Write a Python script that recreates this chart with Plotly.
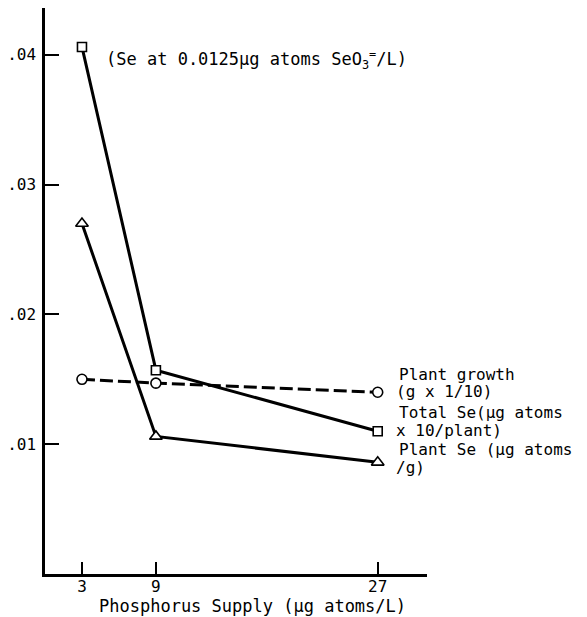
import plotly.graph_objects as go

# ---- data ----
phosphorus = [3, 9, 27]
plant_growth = [0.0150, 0.0147, 0.0140]     # g x 1/10  (circles, dashed)
total_se = [0.0406, 0.0157, 0.0110]         # ug atoms x 10/plant (squares)
plant_se = [0.0270, 0.0106, 0.0086]         # ug atoms/g (triangles)

x_ticks = [3, 9, 27]
x_tick_labels = ["3", "9", "27"]
y_ticks = [0.01, 0.02, 0.03, 0.04]
y_tick_labels = [".01", ".02", ".03", ".04"]

x_title = "Phosphorus Supply (µg atoms/L)"
note = "(Se at 0.0125µg atoms SeO<sub>3</sub><sup>=</sup>/L)"
series_labels = [
    ["Plant growth", "(g x 1/10)"],
    ["Total Se(µg atoms", "x 10/plant)"],
    ["Plant Se (µg atoms", "/g)"],
]

# ---- layout constants (page body has an 8px margin) ----
OFF = 8
W, H = 587 - OFF, 617 - OFF
# target plot box in screenshot pixels: x 45..427, y 8..574
L, T = 45 - OFF, 8 - OFF
R = W - (427 - OFF)
B = H - (574 - OFF)
PW, PH = W - L - R, H - T - B
FONT = "DejaVu Sans Mono"


def px(x):
    return (x - OFF - L) / PW


def py(y):
    return (H - B - (y - OFF)) / PH


fig = go.Figure()

marker_line = dict(color="black", width=1.6)

fig.add_trace(go.Scatter(
    x=phosphorus, y=plant_growth, mode="lines+markers",
    line=dict(color="black", width=3, dash="13px,5px"),
    marker=dict(symbol="circle", size=10, color="white", line=marker_line),
    showlegend=False, cliponaxis=False))
fig.add_trace(go.Scatter(
    x=phosphorus, y=total_se, mode="lines+markers",
    line=dict(color="black", width=3),
    marker=dict(symbol="square", size=9, color="white", line=marker_line),
    showlegend=False, cliponaxis=False))
fig.add_trace(go.Scatter(
    x=phosphorus, y=plant_se, mode="lines+markers",
    line=dict(color="black", width=3),
    marker=dict(symbol="triangle-up", size=11, color="white", line=marker_line),
    showlegend=False, cliponaxis=False))

annotations = []
annotations.append(dict(
    x=px(104), y=py(60), xref="paper", yref="paper", text=note,
    showarrow=False, xanchor="left", yanchor="middle",
    font=dict(family=FONT, size=17, color="black")))
annotations.append(dict(
    x=px(252), y=py(606), xref="paper", yref="paper", text=x_title,
    showarrow=False, xanchor="center", yanchor="middle",
    font=dict(family=FONT, size=17, color="black")))

line_y = [[375, 392], [412, 430], [449, 467]]
line_x = [[397, 394], [397, 394], [397, 394]]
for lbl, ys, xs in zip(series_labels, line_y, line_x):
    for t, yy, xx in zip(lbl, ys, xs):
        annotations.append(dict(
            x=px(xx), y=py(yy), xref="paper", yref="paper", text=t,
            showarrow=False, xanchor="left", yanchor="middle",
            font=dict(family=FONT, size=16, color="black")))

fig.update_layout(
    width=W, height=H,
    margin=dict(l=L, r=R, t=T, b=B, pad=0, autoexpand=False),
    paper_bgcolor="white", plot_bgcolor="white",
    annotations=annotations,
    font=dict(family=FONT, size=16, color="black"),
    xaxis=dict(
        range=[0, 31], tickvals=x_ticks, ticktext=x_tick_labels,
        showline=True, linecolor="black", linewidth=2.5,
        ticks="inside", ticklen=12, tickwidth=2, tickcolor="black",
        showgrid=False, zeroline=False, ticklabelstandoff=-4,
        tickfont=dict(family=FONT, size=16, color="black")),
    yaxis=dict(
        range=[0, 0.0436], tickvals=y_ticks, ticktext=y_tick_labels,
        showline=True, linecolor="black", linewidth=2.5,
        ticks="inside", ticklen=14, tickwidth=2, tickcolor="black",
        showgrid=False, zeroline=False, ticklabelstandoff=3,
        tickfont=dict(family=FONT, size=16, color="black")),
)

fig.write_html("out.html")
